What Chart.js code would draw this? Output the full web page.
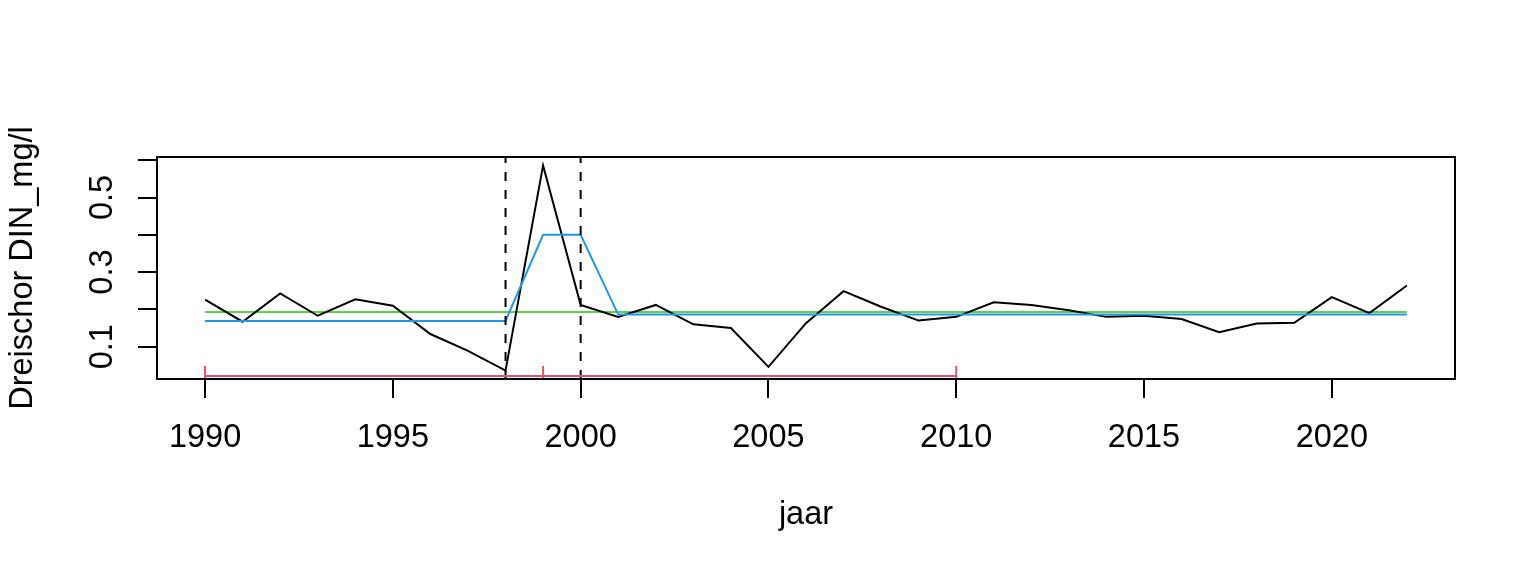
<!DOCTYPE html>
<html>
<head>
<meta charset="utf-8">
<script src="https://cdn.jsdelivr.net/npm/chart.js@4/dist/chart.umd.min.js"></script>
<style>
  html, body { margin: 0; padding: 0; background: #fff; }
  #wrap { width: 1536px; height: 576px; }
</style>
</head>
<body>
<div id="wrap"><canvas id="myChart" width="1536" height="576"></canvas></div>
<script>
// yearly DIN values at Dreischor (mg/l)
var years = [1990, 1991, 1992, 1993, 1994, 1995, 1996, 1997, 1998, 1999, 2000,
  2001, 2002, 2003, 2004, 2005, 2006, 2007, 2008, 2009, 2010,
  2011, 2012, 2013, 2014, 2015, 2016, 2017, 2018, 2019, 2020, 2021, 2022];
var din = [0.226, 0.167, 0.243, 0.183, 0.227, 0.210, 0.134, 0.089, 0.036, 0.586, 0.212,
  0.180, 0.212, 0.160, 0.150, 0.046, 0.163, 0.249, 0.207, 0.170, 0.180,
  0.219, 0.212, 0.198, 0.180, 0.183, 0.174, 0.139, 0.162, 0.164, 0.233, 0.190, 0.264];

// overall mean (green) and segment means (blue)
var meanLevel = 0.193;
var segmentLevels = [0.169, 0.169, 0.169, 0.169, 0.169, 0.169, 0.169, 0.169, 0.169, 0.400, 0.400,
  0.186, 0.186, 0.186, 0.186, 0.186, 0.186, 0.186, 0.186, 0.186, 0.186,
  0.186, 0.186, 0.186, 0.186, 0.186, 0.186, 0.186, 0.186, 0.186, 0.186, 0.186, 0.186];

// break points (dashed) and confidence interval bar (red)
var breakYears = [1998, 2000];
var intervalYears = [1990, 1999, 2010];
var intervalLevel = 0.0215;

var xTicks = [1990, 1995, 2000, 2005, 2010, 2015, 2020];
var yTicks = [0.1, 0.2, 0.3, 0.4, 0.5, 0.6];
var yLabels = ['0.1', '', '0.3', '', '0.5', ''];

var xMin = 1988.72, xMax = 2023.28;
var yMin = 0.0134, yMax = 0.6086;

var FONT = 'Liberation Sans, Arial, sans-serif';
var FS = 32.5;

function pts(xs, ys) {
  return xs.map(function (x, i) { return { x: x, y: Array.isArray(ys) ? ys[i] : ys }; });
}

var datasets = [];
// red interval bar with end ticks
datasets.push({
  data: pts(intervalYears, intervalLevel),
  borderColor: '#DF536B', borderWidth: 2,
  pointStyle: 'line', pointRotation: 90, pointRadius: 10,
  pointBorderColor: '#DF536B', pointBorderWidth: 2,
  clip: 0
});
// dashed break lines
breakYears.forEach(function (yr) {
  datasets.push({
    data: [{ x: yr, y: yMin }, { x: yr, y: yMax }],
    borderColor: '#000', borderWidth: 2, borderDash: [9, 9],
    pointRadius: 0, clip: 0
  });
});
datasets.push({
  data: pts(years, segmentLevels),
  borderColor: '#2297E6', borderWidth: 2, pointRadius: 0
});
datasets.push({
  data: pts(years, din),
  borderColor: '#000', borderWidth: 2, pointRadius: 0
});
datasets.push({
  data: pts([years[0], years[years.length - 1]], meanLevel),
  borderColor: '#61D04F', borderWidth: 2, pointRadius: 0
});

// R style box around the plot region
var boxPlugin = {
  id: 'box',
  afterDraw: function (chart) {
    var a = chart.chartArea, ctx = chart.ctx;
    ctx.save();
    ctx.strokeStyle = '#000';
    ctx.lineWidth = 2;
    ctx.strokeRect(a.left, a.top, a.right - a.left, a.bottom - a.top);
    ctx.restore();
  }
};

var ctx = document.getElementById('myChart').getContext('2d');
var chart = new Chart(ctx, {
  type: 'line',
  data: { datasets: datasets },
  plugins: [boxPlugin],
  options: {
    responsive: false,
    animation: false,
    devicePixelRatio: 1,
    layout: { padding: { top: 157, right: 81, left: 0, bottom: 0 } },
    plugins: { legend: { display: false }, tooltip: { enabled: false } },
    elements: { line: { tension: 0 } },
    scales: {
      x: {
        type: 'linear', min: xMin, max: xMax,
        afterBuildTicks: function (s) { s.ticks = xTicks.map(function (v) { return { value: v }; }); },
        afterFit: function (s) { s.height = 197; },
        border: { display: false },
        grid: { drawOnChartArea: false, drawTicks: true, tickLength: 19, color: '#000', lineWidth: 2 },
        ticks: {
          color: '#000', padding: 21, maxRotation: 0, autoSkip: false,
          font: { family: FONT, size: FS },
          callback: function (v) { return String(v); }
        },
        title: {
          display: true, text: 'jaar', color: '#000',
          font: { family: FONT, size: FS }, padding: { top: 0, bottom: 41 }
        }
      },
      y: {
        type: 'linear', min: yMin, max: yMax,
        afterBuildTicks: function (s) { s.ticks = yTicks.map(function (v) { return { value: v }; }); },
        afterFit: function (s) { s.width = 157; },
        border: { display: false },
        grid: { drawOnChartArea: false, drawTicks: true, tickLength: 19, color: '#000', lineWidth: 2 },
        ticks: {
          color: '#000', padding: 12, minRotation: 90, maxRotation: 90, crossAlign: 'center',
          autoSkip: false,
          font: { family: FONT, size: FS },
          callback: function (v, i) { return yLabels[i]; }
        },
        title: {
          display: true, text: 'Dreischor DIN_mg/l', color: '#000',
          font: { family: FONT, size: FS }, padding: { top: 4, bottom: 0 }
        }
      }
    }
  }
});
</script>
</body>
</html>
